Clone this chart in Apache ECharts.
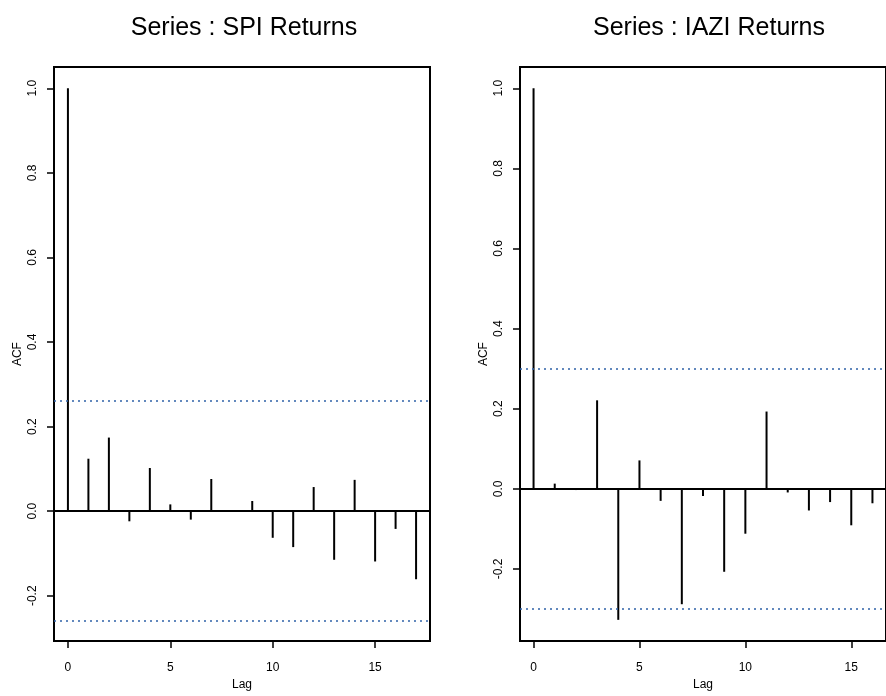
<!DOCTYPE html>
<html>
<head>
<meta charset="utf-8">
<script src="https://cdn.jsdelivr.net/npm/echarts@6/dist/echarts.min.js"></script>
<style>
html, body { margin: 0; padding: 0; background: #fff; }
#main { width: 886px; height: 696px; }
</style>
</head>
<body>
<div id="main"></div>
<script>
// values
var spiLags = [0, 1, 2, 3, 4, 5, 6, 7, 8, 9, 10, 11, 12, 13, 14, 15, 16, 17];
var spiAcf = [1.0, 0.124, 0.174, -0.024, 0.102, 0.016, -0.020, 0.076, 0.002, 0.024, -0.063, -0.085, 0.057, -0.115, 0.074, -0.119, -0.042, -0.161];
var spiCi = 0.257;

var iaziLags = [0, 1, 2, 3, 4, 5, 6, 7, 8, 9, 10, 11, 12, 13, 14, 15, 16];
var iaziAcf = [1.0, 0.013, -0.003, 0.221, -0.327, 0.071, -0.030, -0.288, -0.018, -0.207, -0.112, 0.193, -0.009, -0.054, -0.033, -0.091, -0.036];
var iaziCi = 0.296;

var xTicks = [0, 5, 10, 15];
var yTicks = [-0.2, 0, 0.2, 0.4, 0.6, 0.8, 1.0];
var titles = ['Series : SPI Returns', 'Series : IAZI Returns'];

var FONT = '"Liberation Sans", Arial, Helvetica, sans-serif';
var CI_COL = '#2f62a8';

// R style 4% range extension
function padRange(lo, hi) {
	var d = (hi - lo) * 0.04;
	return [lo - d, hi + d];
}

function panel(idx, lags, acf, ci) {
	var xr = padRange(0, lags[lags.length - 1]);
	var yr = padRange(Math.min(-ci, Math.min.apply(null, acf)), Math.max(ci, Math.max.apply(null, acf)));
	var xAxis = {
		type: 'value',
		gridIndex: idx,
		position: 'bottom',
		min: xr[0],
		max: xr[1],
		name: 'Lag',
		nameLocation: 'middle',
		nameGap: 36,
		nameTextStyle: { color: '#000', fontSize: 12, fontFamily: FONT },
		axisLine: { show: true, onZero: false, lineStyle: { color: '#000', width: 2 } },
		axisTick: { show: true, length: 7, customValues: xTicks, lineStyle: { color: '#000', width: 1.5 } },
		axisLabel: { customValues: xTicks, margin: 21, color: '#000', fontSize: 12, fontFamily: FONT },
		splitLine: { show: false }
	};
	var yAxis = {
		type: 'value',
		gridIndex: idx,
		position: 'left',
		min: yr[0],
		max: yr[1],
		name: 'ACF',
		nameLocation: 'middle',
		nameGap: 30,
		nameTextStyle: { color: '#000', fontSize: 12, fontFamily: FONT },
		axisLine: { show: true, onZero: false, lineStyle: { color: '#000', width: 2 } },
		axisTick: { show: true, length: 7, customValues: yTicks, lineStyle: { color: '#000', width: 1.5 } },
		axisLabel: {
			customValues: yTicks,
			rotate: 90,
			margin: 15,
			color: '#000',
			fontSize: 12,
			fontFamily: FONT,
			formatter: function(v) { return v.toFixed(1); }
		},
		splitLine: { show: false }
	};
	var data = [];
	for (var i = 0; i < lags.length; i++) {
		data.push([lags[i], acf[i]]);
	}
	var series = {
		type: 'bar',
		xAxisIndex: idx,
		yAxisIndex: idx,
		data: data,
		barWidth: 2,
		itemStyle: { color: '#000' },
		silent: true,
		markLine: {
			silent: true,
			symbol: 'none',
			label: { show: false },
			data: [
				{ yAxis: 0, lineStyle: { type: 'solid', color: '#000', width: 2 } },
				{ yAxis: ci, lineStyle: { type: [2, 4], color: CI_COL, width: 1.5 } },
				{ yAxis: -ci, lineStyle: { type: [2, 4], color: CI_COL, width: 1.5 } }
			]
		}
	};
	return { xAxis: xAxis, yAxis: yAxis, series: series };
}

var p1 = panel(0, spiLags, spiAcf, spiCi);
var p2 = panel(1, iaziLags, iaziAcf, iaziCi);

var chart = echarts.init(document.getElementById('main'), null, { renderer: 'canvas' });
chart.setOption({
	backgroundColor: '#fff',
	animation: false,
	title: [
		{ text: titles[0], left: 244, top: 16, padding: 0, textAlign: 'center',
			textStyle: { fontSize: 25, fontWeight: 'normal', color: '#000', fontFamily: FONT } },
		{ text: titles[1], left: 709, top: 16, padding: 0, textAlign: 'center',
			textStyle: { fontSize: 25, fontWeight: 'normal', color: '#000', fontFamily: FONT } }
	],
	grid: [
		{ left: 54, top: 67, width: 376, height: 579, show: true, borderColor: '#000', borderWidth: 2, backgroundColor: 'transparent' },
		{ left: 520, top: 67, width: 376, height: 579, show: true, borderColor: '#000', borderWidth: 2, backgroundColor: 'transparent' }
	],
	xAxis: [p1.xAxis, p2.xAxis],
	yAxis: [p1.yAxis, p2.yAxis],
	series: [p1.series, p2.series]
});
</script>
</body>
</html>
